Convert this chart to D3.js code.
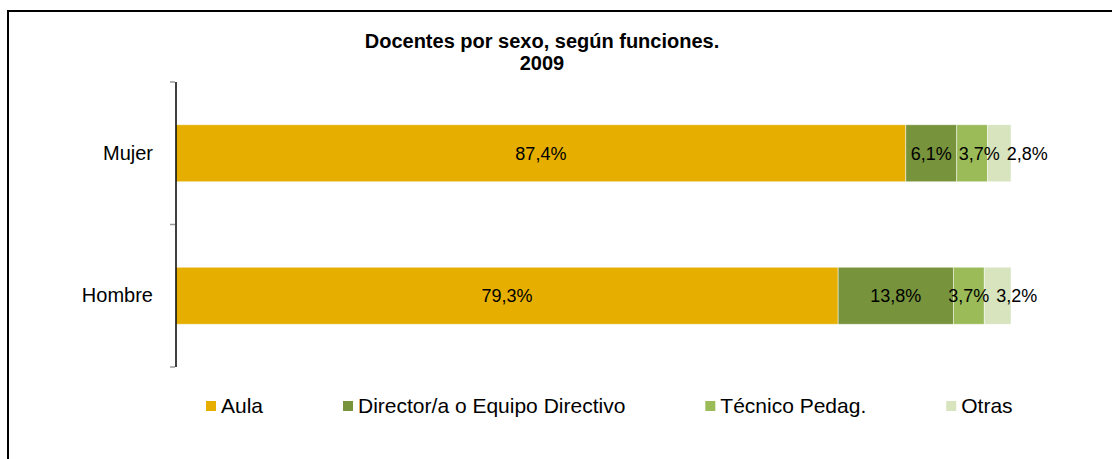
<!DOCTYPE html>
<html>
<head>
<meta charset="utf-8">
<script src="https://cdn.jsdelivr.net/npm/d3@7"></script>
<style>
  body { margin: 0; background: #fff; }
  svg { display: block; font-family: "Liberation Sans", Arial, sans-serif; }
  .cat-axis .domain { stroke: #000; stroke-width: 1.5; }
  .cat-axis text { font-size: 20px; fill: #000; }
  .bound-tick { stroke: #999; stroke-width: 1.5; }
  .seg-label { font-size: 18px; fill: #000; }
  .legend text { font-size: 21px; fill: #000; }
</style>
</head>
<body>
<div id="chart"></div>
<script>
// data
var categories = ["Mujer", "Hombre"]
var series = ["Aula", "Director/a o Equipo Directivo", "Técnico Pedag.", "Otras"]
var aula = [87.4, 79.3]
var director = [6.1, 13.8]
var tecnico = [3.7, 3.7]
var otras = [2.8, 3.2]
var colors = ["#E6AF00", "#77933C", "#9BBB59", "#D7E4BD"]
var title_lines = ["Docentes por sexo, según funciones.", "2009"]

var W = 1112, H = 459
var margin = {top: 82, right: 101, bottom: 92, left: 176}
var width = W - margin.left - margin.right
var height = H - margin.top - margin.bottom

var fmt = function(v) { return d3.format(".1f")(v).replace(".", ",") + "%" }

// build stacked rows
var rows = categories.map(function(c, i) {
  return {name: c, Aula: aula[i], "Director/a o Equipo Directivo": director[i],
          "Técnico Pedag.": tecnico[i], Otras: otras[i]}
})
var stacked = d3.stack().keys(series)(rows)

var svg = d3.select("#chart").append("svg")
  .attr("width", W)
  .attr("height", H)

// outer frame (only top/left visible in picture)
svg.append("rect")
  .attr("x", 8).attr("y", 11)
  .attr("width", W + 20).attr("height", H + 20)
  .attr("fill", "none")
  .attr("stroke", "#000")
  .attr("stroke-width", 2)

var g = svg.append("g")
  .attr("transform", "translate(" + margin.left + "," + margin.top + ")")

var xScale = d3.scaleLinear().domain([0, 100]).range([0, width])
var yScale = d3.scaleBand().domain(categories).range([0, height]).padding(0)
var barH = yScale.bandwidth() * 0.4
var barOff = (yScale.bandwidth() - barH) / 2

// bars
var layers = g.selectAll(".layer")
  .data(stacked)
  .enter().append("g")
  .attr("class", "layer")
  .attr("fill", function(d, i) { return colors[i] })

layers.selectAll("rect")
  .data(function(d) { return d })
  .enter().append("rect")
  .attr("x", function(d) { return xScale(d[0]) })
  .attr("y", function(d) { return yScale(d.data.name) + barOff })
  .attr("width", function(d) { return xScale(d[1]) - xScale(d[0]) })
  .attr("height", barH)
  .attr("stroke", "#fff")
  .attr("stroke-opacity", 0.6)
  .attr("stroke-width", 0.8)

// axis
var yAxis = g.append("g")
  .attr("class", "cat-axis")
  .call(d3.axisLeft(yScale).tickSize(0).tickPadding(23))
yAxis.select(".domain").attr("d", "M0," + 0 + "V" + height)

// boundary ticks
var bounds = categories.map(function(c) { return yScale(c) })
bounds.push(height)
g.selectAll(".bound-tick")
  .data(bounds)
  .enter().append("line")
  .attr("class", "bound-tick")
  .attr("x1", -6).attr("x2", -1)
  .attr("y1", function(d) { return d }).attr("y2", function(d) { return d })

// labels, pushed right where they would collide
categories.forEach(function(c, ci) {
  var prevEnd = -Infinity
  stacked.forEach(function(layer, li) {
    var d = layer[ci]
    var cx = (xScale(d[0]) + xScale(d[1])) / 2
    var t = g.append("text")
      .attr("class", "seg-label")
      .attr("text-anchor", "middle")
      .attr("y", yScale(c) + yScale.bandwidth() / 2)
      .attr("dy", "0.36em")
      .text(fmt(d[1] - d[0]))
    var w = t.node().getComputedTextLength()
    var start = cx - w / 2
    if (start < prevEnd + 7) start = prevEnd + 7
    t.attr("x", start + w / 2)
    prevEnd = start + w
  })
})

// title
svg.append("text")
  .attr("text-anchor", "middle")
  .attr("x", 542)
  .attr("y", 48)
  .style("font-size", "20px")
  .style("font-weight", "bold")
  .selectAll("tspan")
  .data(title_lines)
  .enter().append("tspan")
  .attr("x", 542)
  .attr("dy", function(d, i) { return i ? 22 : 0 })
  .text(function(d) { return d })

// legend
var legend = svg.append("g").attr("class", "legend")
var lx = 206
series.forEach(function(s, i) {
  legend.append("rect")
    .attr("x", lx).attr("y", 401)
    .attr("width", 10).attr("height", 10)
    .attr("fill", colors[i])
  var t = legend.append("text")
    .attr("x", lx + 15).attr("y", 413)
    .text(s)
  lx += 15 + t.node().getComputedTextLength() + 80
})
</script>
</body>
</html>
